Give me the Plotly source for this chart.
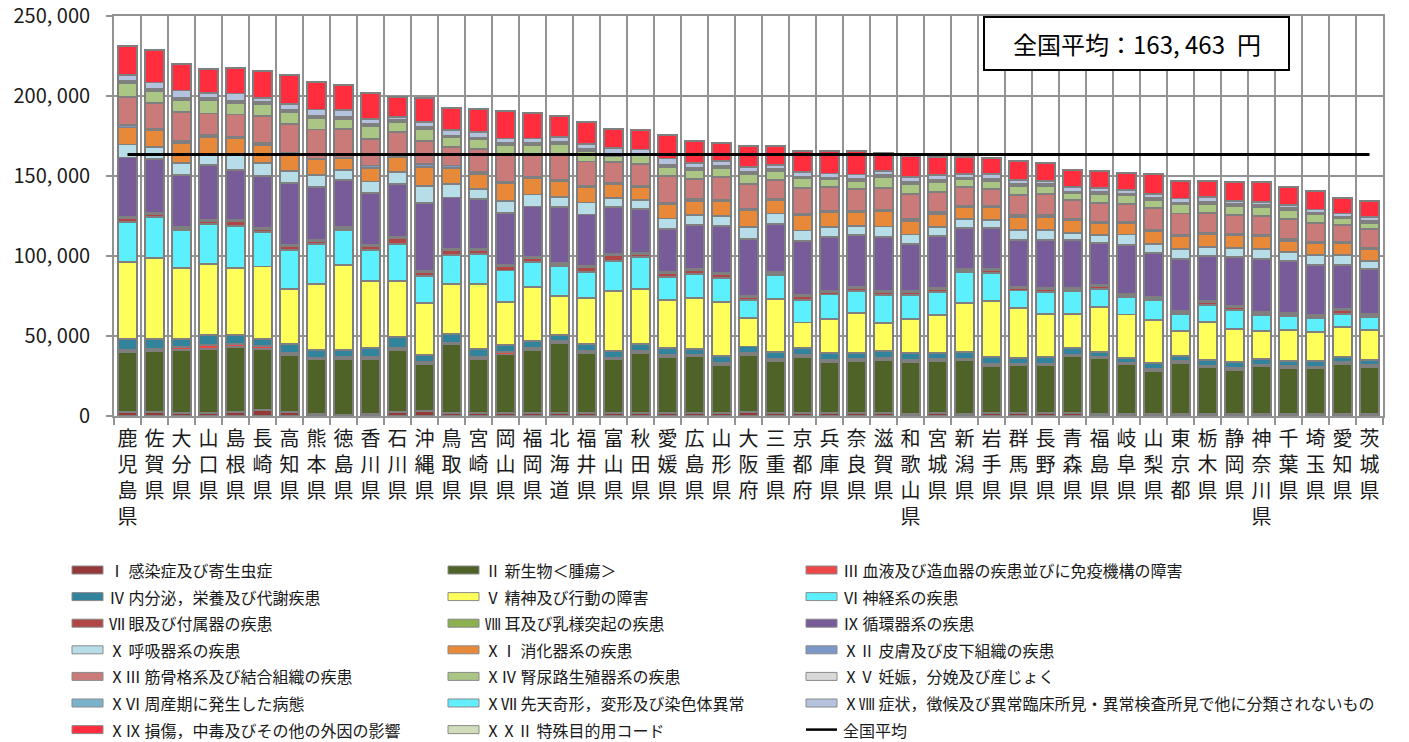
import plotly.graph_objects as go

# ---------------- data ----------------
prefectures = ["鹿児島県", "佐賀県", "大分県", "山口県", "島根県", "長崎県", "高知県", "熊本県", "徳島県", "香川県",
               "石川県", "沖縄県", "鳥取県", "宮崎県", "岡山県", "福岡県", "北海道", "福井県", "富山県", "秋田県",
               "愛媛県", "広島県", "山形県", "大阪府", "三重県", "京都府", "兵庫県", "奈良県", "滋賀県", "和歌山県",
               "宮城県", "新潟県", "岩手県", "群馬県", "長野県", "青森県", "福島県", "岐阜県", "山梨県", "東京都",
               "栃木県", "静岡県", "神奈川県", "千葉県", "埼玉県", "愛知県", "茨城県"]

category_labels = [
    "Ⅰ 感染症及び寄生虫症", "Ⅱ 新生物＜腫瘍＞", "Ⅲ 血液及び造血器の疾患並びに免疫機構の障害",
    "Ⅳ 内分泌，栄養及び代謝疾患", "Ⅴ 精神及び行動の障害", "Ⅵ 神経系の疾患",
    "Ⅶ 眼及び付属器の疾患", "Ⅷ 耳及び乳様突起の疾患", "Ⅸ 循環器系の疾患",
    "Ⅹ 呼吸器系の疾患", "ⅩⅠ 消化器系の疾患", "ⅩⅡ 皮膚及び皮下組織の疾患",
    "ⅩⅢ 筋骨格系及び結合組織の疾患", "ⅩⅣ 腎尿路生殖器系の疾患", "ⅩⅤ 妊娠，分娩及び産じょく",
    "ⅩⅥ 周産期に発生した病態", "ⅩⅦ 先天奇形，変形及び染色体異常",
    "ⅩⅧ 症状，徴候及び異常臨床所見・異常検査所見で他に分類されないもの",
    "ⅩⅨ 損傷，中毒及びその他の外因の影響", "ⅩⅩⅡ 特殊目的用コード",
]
avg_label = "全国平均"

cat_colors = ["#953838", "#4F6228", "#EE4747", "#31849B", "#FFFF5B", "#5CEFFD",
              "#B04646", "#8DB04E", "#775C99", "#B7DEE8", "#E8893A", "#7B98C8",
              "#CB7A7A", "#ABC585", "#D9D9D9", "#7AB3CA", "#62EEFD", "#B5C2DD",
              "#FF2D3E", "#D0DDBA"]

v01 = [2500, 2700, 2100, 2100, 2700, 3700, 2500, 1500, 1000, 1500, 2700, 3300, 2100, 1700, 2100, 2100, 1700, 1700, 2100, 1700,
       1700, 1700, 1700, 2300, 1700, 1700, 1700, 1700, 1700, 1300, 1700, 1300, 1700, 1700, 1700, 1700, 1300, 1300, 1300, 1300,
       1300, 1300, 1300, 1300, 1300, 1300, 1300]
v02 = [37500, 37900, 39100, 40000, 40400, 38400, 35400, 33900, 34800, 34300, 38500, 29000, 42700, 33900, 36400, 39400, 43700,
       37700, 33300, 37700, 35400, 35600, 30200, 35800, 32700, 35400, 32300, 32700, 33300, 32700, 32700, 33700, 29500, 30000,
       30000, 35800, 34700, 31000, 26800, 31800, 29100, 27700, 29700, 28900, 28700, 31400, 29500]
v03 = [1200, 1500, 1900, 2100, 1700, 1600, 1500, 1100, 1100, 1300, 1100, 1400, 1200, 1300, 1300, 1000, 1500, 1200, 800, 1200,
       1200, 1000, 1400, 1300, 1000, 1200, 1000, 1000, 1200, 1000, 1000, 1000, 1300, 1000, 1000, 1000, 1100, 1200, 1300, 1100,
       1100, 1000, 1100, 1000, 1000, 1000, 1100]
v04 = [6700, 5800, 5200, 6200, 6000, 4600, 5600, 5000, 4600, 5400, 7100, 4200, 5200, 4800, 4800, 4600, 3500, 4200, 4400, 4200,
       4400, 3800, 4200, 4100, 4400, 4400, 4200, 4200, 4400, 4200, 3800, 4000, 4200, 3800, 4200, 4000, 2900, 3000, 3700, 3300,
       3700, 3700, 3700, 3400, 3200, 3200, 3100]
v05 = [48500, 51000, 44400, 44800, 41500, 45200, 34400, 41000, 53100, 42100, 35200, 32700, 31100, 40800, 26600, 33300, 24800,
       28900, 37500, 34600, 30000, 31600, 34000, 17700, 33300, 15800, 21600, 24800, 17500, 21400, 23900, 30600, 35200, 31000,
       27100, 21200, 27900, 27000, 27100, 15800, 23500, 20700, 17500, 19400, 18100, 18500, 19000]
v06 = [25000, 25700, 23500, 25000, 26400, 21500, 24300, 25200, 21600, 19300, 22900, 17100, 18300, 18700, 19800, 15800, 18500,
       16300, 18800, 20200, 14000, 15200, 15000, 11100, 14800, 14000, 15200, 13700, 17500, 15000, 14400, 19200, 17700, 11000,
       13700, 14200, 11300, 11100, 12100, 10400, 10700, 11800, 10000, 8500, 8900, 8600, 7700]
v07 = [2400, 1900, 1500, 1700, 3200, 2100, 2600, 1900, 1500, 2600, 4000, 2100, 3400, 2800, 2600, 2600, 1500, 3100, 3700, 1700,
       2900, 2200, 2100, 2300, 1700, 2300, 1700, 1700, 2100, 1700, 1700, 1500, 1500, 1700, 1500, 1300, 2100, 1000, 1700, 1500,
       2100, 1900, 900, 1500, 1300, 2300, 1400]
v08 = [600, 600, 600, 600, 600, 600, 600, 600, 600, 600, 600, 600, 600, 600, 600, 600, 600, 600, 600, 600,
       600, 600, 600, 600, 600, 600, 600, 600, 600, 600, 600, 600, 600, 600, 600, 600, 600, 600, 600, 600,
       600, 600, 600, 600, 600, 600, 600]
v09 = [37200, 33700, 32500, 34400, 31400, 32300, 38900, 32900, 29200, 32500, 32700, 42700, 32000, 30800, 32900, 31600, 34800,
       32300, 29200, 27500, 26700, 27900, 29500, 35400, 29800, 34000, 33400, 32500, 33600, 29600, 32500, 25800, 26000, 29400,
       30000, 30000, 26200, 30500, 27500, 32300, 27900, 30500, 33100, 32100, 31500, 27700, 28000]
v10 = [8100, 7300, 7500, 6600, 9800, 8100, 7300, 7500, 6400, 7000, 7500, 10800, 8200, 6300, 7500, 7500, 6300, 7500, 5800, 5400,
       6600, 6000, 6100, 7700, 6600, 6600, 6200, 6000, 6600, 6000, 5800, 5400, 5000, 6000, 6400, 4800, 5000, 6800, 5400, 6500,
       5600, 5800, 6700, 5600, 5800, 6000, 5400]
v11 = [10600, 10400, 12100, 10900, 9900, 11300, 10500, 9700, 7000, 8600, 9400, 11900, 10400, 9800, 10800, 9900, 9800, 9400,
       8800, 8100, 9000, 9000, 9400, 10100, 8400, 9600, 9400, 8400, 9400, 8600, 8400, 7300, 8100, 8400, 8400, 7900, 7700, 6900,
       7900, 7700, 8200, 7900, 7700, 7300, 7500, 7500, 7300]
v12 = [1500, 900, 1500, 1000, 1000, 1000, 1000, 500, 700, 1400, 800, 1500, 1400, 800, 800, 800, 800, 800, 800, 800,
       800, 800, 800, 800, 800, 1000, 800, 800, 800, 800, 800, 800, 800, 800, 800, 800, 800, 800, 800, 800,
       800, 800, 800, 800, 800, 800, 800]
v13 = [17700, 16200, 17900, 13700, 13900, 17100, 18100, 18300, 18000, 16700, 15200, 14600, 11500, 14800, 16900, 14900, 16400,
       15400, 12900, 13600, 16500, 12900, 14600, 15800, 11700, 16100, 15000, 13800, 13800, 15800, 12900, 11900, 10300, 12900,
       13300, 11700, 11700, 11300, 13800, 13500, 12500, 11700, 11900, 12500, 12100, 10500, 11700]
v14 = [8700, 7500, 7500, 8200, 7300, 7300, 7300, 6900, 6200, 7900, 6200, 7500, 6000, 5800, 6300, 5300, 5900, 6500, 3800, 5800,
       6000, 5400, 5200, 6200, 5600, 5800, 4800, 5200, 7100, 6300, 6200, 4800, 5000, 5400, 5000, 4100, 5400, 5400, 5000, 5700,
       5400, 5800, 5800, 5800, 5200, 4100, 3900]
v15 = [200, 200, 200, 200, 200, 200, 200, 200, 200, 200, 200, 200, 200, 200, 200, 200, 200, 200, 200, 200,
       200, 200, 200, 200, 200, 200, 200, 200, 200, 200, 200, 200, 200, 200, 200, 200, 200, 200, 200, 200,
       200, 200, 200, 200, 200, 200, 200]
v16 = [400, 400, 500, 400, 400, 400, 400, 400, 400, 400, 300, 400, 400, 400, 400, 400, 400, 400, 400, 300,
       400, 400, 400, 400, 400, 400, 400, 400, 400, 400, 400, 400, 400, 400, 400, 400, 400, 400, 400, 400,
       400, 400, 400, 400, 400, 400, 400]
v17 = [800, 800, 800, 700, 800, 700, 700, 800, 800, 600, 600, 600, 600, 600, 600, 600, 700, 600, 600, 500,
       700, 600, 800, 600, 600, 600, 600, 600, 500, 700, 600, 600, 800, 600, 600, 600, 600, 500, 600, 600,
       800, 600, 500, 500, 500, 500, 600]
v18 = [3400, 3900, 4700, 3500, 4400, 2800, 3900, 4200, 4000, 3400, 2100, 3300, 3400, 3200, 2900, 2900, 3500, 3200, 4000, 2500,
       3900, 3000, 3200, 3000, 2600, 2600, 2500, 2700, 2400, 3300, 3000, 2100, 2900, 2600, 2200, 3000, 2400, 2200, 2500, 2500,
       3200, 2000, 2000, 2100, 2000, 2000, 2600]
v19 = [18200, 20200, 16500, 14900, 15700, 16700, 17900, 17100, 15400, 15800, 12500, 14600, 13600, 14300, 17300, 15600, 12900,
       13900, 11400, 12100, 14600, 14200, 11000, 13500, 12000, 13500, 14000, 14600, 11500, 12900, 11000, 10400, 10200, 12100,
       10800, 10400, 11000, 10900, 12300, 11100, 9800, 12000, 12100, 11400, 11500, 9400, 9800]
v22 = [50, 50, 50, 50, 50, 50, 50, 50, 50, 50, 50, 50, 50, 50, 50, 50, 50, 50, 50, 50,
       50, 50, 50, 50, 50, 50, 50, 50, 50, 50, 50, 50, 50, 50, 50, 50, 50, 50, 50, 50,
       50, 50, 50, 50, 50, 50, 50]

national_average = 163463

y_tick_vals = [0, 50000, 100000, 150000, 200000, 250000]
y_tick_text = ["0", "50, 000", "100, 000", "150, 000", "200, 000", "250, 000"]

series = [v01, v02, v03, v04, v05, v06, v07, v08, v09, v10, v11, v12, v13, v14, v15, v16, v17, v18, v19, v22]

# ---------------- layout constants (page pixels) ----------------
PAGE_OFF = 8                      # default body margin of the html page
W, H = 1409 - PAGE_OFF, 742 - PAGE_OFF
PLOT_L, PLOT_R, PLOT_T, PLOT_B = 114, 1383, 16, 416   # plot area in page pixels
PW, PH = PLOT_R - PLOT_L, PLOT_B - PLOT_T
M_L, M_T = PLOT_L - PAGE_OFF, PLOT_T - PAGE_OFF
M_R, M_B = W - M_L - PW, H - M_T - PH
JP = "Noto Sans CJK JP"
GRID = "#939393"


def px_x(p):
    return (p - PLOT_L) / PW


def px_y(p):
    return (PLOT_B - p) / PH


fig = go.Figure()
for name, vals, col in zip(category_labels, series, cat_colors):
    fig.add_trace(go.Bar(x=prefectures, y=vals, name=name,
                         marker=dict(color=col, line=dict(color="#7f7f7f", width=1.8)),
                         showlegend=False))

fig.add_trace(go.Scatter(x=prefectures, y=[national_average] * len(prefectures), mode="lines",
                         line=dict(color="black", width=3), name=avg_label, showlegend=False))

annotations = []
shapes = []

# average box
shapes.append(dict(type="rect", xref="paper", yref="paper",
                   x0=px_x(984), x1=px_x(1289), y0=px_y(70), y1=px_y(17),
                   fillcolor="white", line=dict(color="black", width=2), layer="above"))
annotations.append(dict(x=px_x(1136.5), y=px_y(44), xref="paper", yref="paper",
                        text="全国平均：163, 463\u2002円", showarrow=False,
                        xanchor="center", yanchor="middle",
                        font=dict(family=JP, size=24, color="black")))

# manual legend (3 columns, row-wise)
col_x = [72, 448, 806]
leg_row0, leg_step = 570, 26.6
legend_items = [(lbl, c) for lbl, c in zip(category_labels, cat_colors)] + [(avg_label, None)]
for k, (lbl, c) in enumerate(legend_items):
    r, cidx = divmod(k, 3)
    cy = leg_row0 + r * leg_step
    sx = col_x[cidx]
    if c is None:
        shapes.append(dict(type="line", xref="paper", yref="paper",
                           x0=px_x(sx), x1=px_x(sx + 31), y0=px_y(cy), y1=px_y(cy),
                           line=dict(color="black", width=2.5)))
    else:
        shapes.append(dict(type="rect", xref="paper", yref="paper",
                           x0=px_x(sx), x1=px_x(sx + 31), y0=px_y(cy + 4), y1=px_y(cy - 4),
                           fillcolor=c, line=dict(color="#8a8a8a", width=1)))
    annotations.append(dict(x=px_x(sx + 35), y=px_y(cy), xref="paper", yref="paper",
                            text=lbl, showarrow=False, xanchor="left", yanchor="middle",
                            font=dict(family=JP, size=16, color="#1a1a1a")))

fig.update_layout(
    width=W, height=H, autosize=False,
    margin=dict(l=M_L, r=M_R, t=M_T, b=M_B, pad=0),
    barmode="stack", bargap=0.28,
    plot_bgcolor="white", paper_bgcolor="white",
    showlegend=False,
    font=dict(family=JP, color="#1a1a1a"),
    annotations=annotations, shapes=shapes,
)
fig.update_xaxes(type="category", tickson="boundaries", showgrid=True, gridcolor=GRID, gridwidth=1.7,
                 ticks="outside", ticklen=7, tickcolor=GRID, tickwidth=1.7,
                 tickmode="array", tickvals=prefectures, ticktext=["<br>".join(p) for p in prefectures],
                 tickfont=dict(family=JP, size=20, color="#1a1a1a"), tickangle=0,
                 ticklabelstandoff=4, automargin=False,
                 showline=True, mirror=True, linecolor=GRID, linewidth=1.7,
                 range=[-0.5, len(prefectures) - 0.5])
fig.update_yaxes(range=[0, 250000], tickmode="array", tickvals=y_tick_vals, ticktext=y_tick_text,
                 showgrid=True, gridcolor=GRID, gridwidth=1.7, zeroline=False,
                 ticks="outside", ticklen=6, tickcolor=GRID, tickwidth=1.7, ticklabelstandoff=12,
                 ticklabeloverflow="allow", automargin=False,
                 tickfont=dict(family=JP, size=20, color="#1a1a1a"),
                 showline=True, mirror=True, linecolor=GRID, linewidth=1.7)

fig.write_html("out.html")
